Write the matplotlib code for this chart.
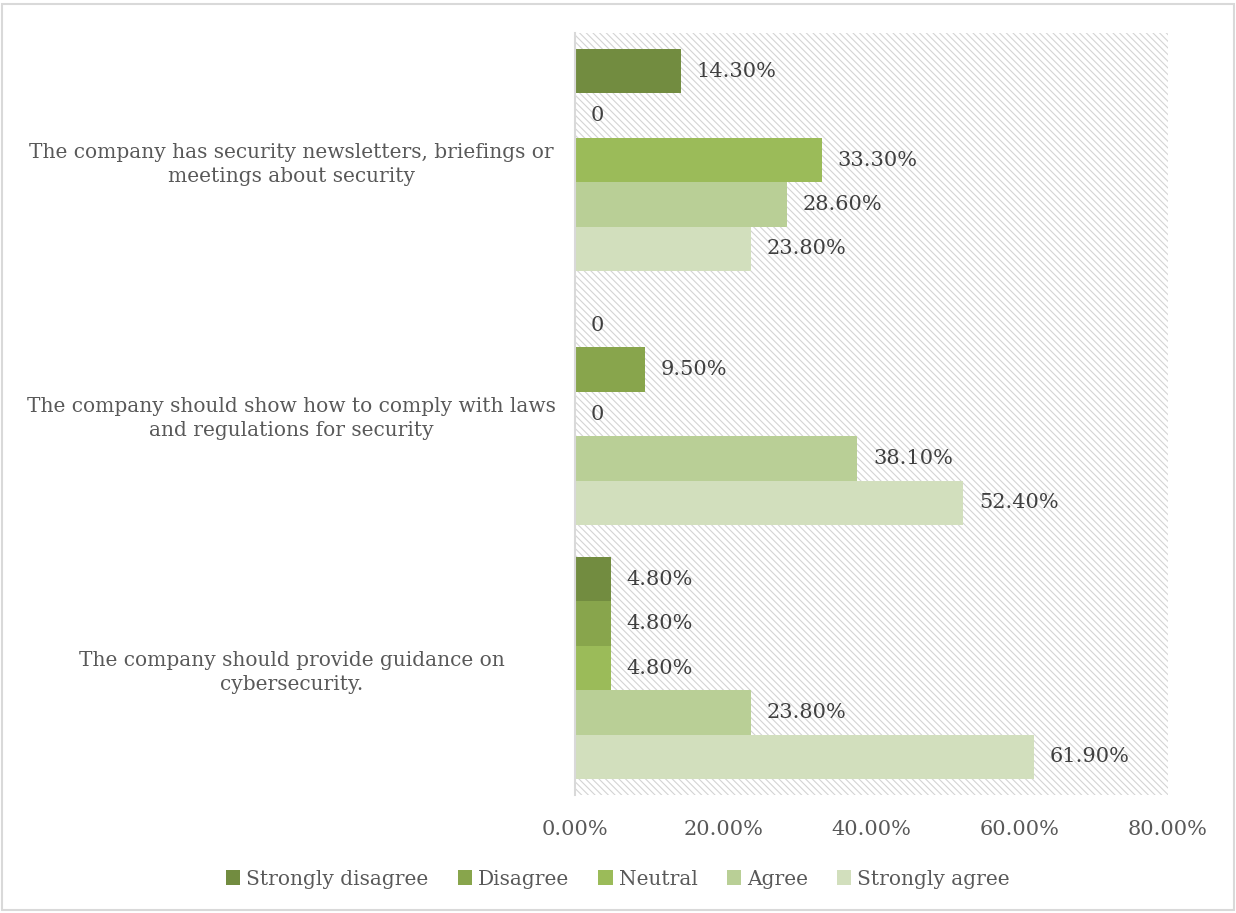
import matplotlib.pyplot as plt
import numpy as np
from matplotlib.patches import Rectangle, Patch

plt.rcParams['font.family'] = 'DejaVu Serif'
plt.rcParams['hatch.linewidth'] = 0.8

# survey statements, top to bottom
questions = [
    'The company has security newsletters, briefings or\nmeetings about security',
    'The company should show how to comply with laws\nand regulations for security',
    'The company should provide guidance on\ncybersecurity.',
]
responses = ['Strongly disagree', 'Disagree', 'Neutral', 'Agree', 'Strongly agree']
colors = ['#728c40', '#88a54c', '#9bbb59', '#b9cf96', '#d2dfbd']

# share of answers (%) per statement, one list per response
strongly_disagree = [14.3, 0.0, 4.8]
disagree = [0.0, 9.5, 4.8]
neutral = [33.3, 0.0, 4.8]
agree = [28.6, 38.1, 23.8]
strongly_agree = [23.8, 52.4, 61.9]
values = [strongly_disagree, disagree, neutral, agree, strongly_agree]

xticks = [0, 20, 40, 60, 80]

fig = plt.figure(figsize=(12.36, 9.13), dpi=100)
ax = fig.add_axes([575 / 1236, 1 - 795 / 913, (1168 - 575) / 1236, (795 - 33) / 913])

# outer frame of the chart
fig.add_artist(Rectangle((2 / 1236, 3 / 913), 1232 / 1236, 906 / 913, transform=fig.transFigure,
                         fill=False, edgecolor='#d9d9d9', linewidth=1.5))

# hatched plot area background
ax.add_patch(Rectangle((0, 0), 1, 1, transform=ax.transAxes, facecolor='white',
                       edgecolor='#d4d4d4', hatch='\\\\\\\\\\', linewidth=0, zorder=0))

text_color = '#404040'
bar_h = 0.175
y = np.arange(len(questions))
for j, (resp, vals, col) in enumerate(zip(responses, values, colors)):
    pos = y + (j - 2) * bar_h
    ax.barh(pos, vals, height=bar_h, color=col, label=resp, zorder=2)
    for p, v in zip(pos, vals):
        label = '0' if v == 0 else f'{v:.2f}%'
        ax.text(v + 2.1, p, label, va='center', ha='left', fontsize=15, color=text_color, zorder=3)

ax.set_xlim(0, 80)
ax.set_ylim(2.5, -0.5)
ax.set_xticks(xticks)
ax.set_xticklabels([f'{t:.2f}%' for t in xticks], fontsize=15, color='#595959')
ax.set_yticks(y)
ax.set_yticklabels(questions, fontsize=14.5, color='#595959', ha='center',
                   multialignment='center', linespacing=1.35)
ax.tick_params(axis='x', length=0, pad=18)
ax.tick_params(axis='y', length=0, pad=204)

for side in ['top', 'right', 'bottom']:
    ax.spines[side].set_visible(False)
ax.spines['left'].set_color('#d9d9d9')
ax.spines['left'].set_linewidth(1.5)
ax.spines['left'].set_zorder(4)

handles = [Patch(facecolor=c, edgecolor='none') for c in colors]
fig.legend(handles, responses, loc='center', bbox_to_anchor=(0.5, 1 - 879 / 913), ncol=5,
           frameon=False, fontsize=14.5, handlelength=0.7, handleheight=0.7, handletextpad=0.3,
           columnspacing=1.45, labelcolor='#595959')

plt.savefig('out.png', dpi=100)
